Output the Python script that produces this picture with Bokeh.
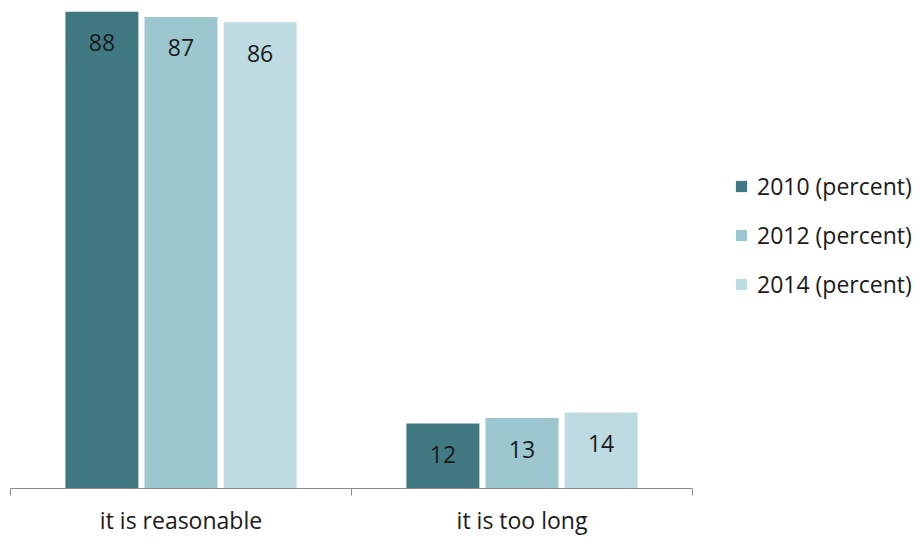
from bokeh.plotting import figure
from bokeh.models import ColumnDataSource, Range1d, FixedTicker, Legend, LegendItem, LinearAxis
from bokeh.embed import file_html
from bokeh.resources import INLINE
from bokeh.core.properties import value

categories = ["it is reasonable", "it is too long"]
series = ["2010 (percent)", "2012 (percent)", "2014 (percent)"]
values_2010 = [88, 12]
values_2012 = [87, 13]
values_2014 = [86, 14]
colors = ["#417983", "#9dc7cf", "#bddbe0"]

FONT = "Open Sans"
FS = "23px"

n = len(categories)
# frame spans the whole width to the right; the category axis is bounded to [0, n]
x_end = n * 911 / 682

p = figure(width=921, height=540, output_backend="svg", toolbar_location=None,
           x_range=Range1d(0, x_end), y_range=Range1d(0, 88),
           min_border_left=10, min_border_right=0, min_border_top=11, min_border_bottom=52,
           x_axis_location=None, y_axis_location=None)
p.outline_line_color = None
p.xgrid.visible = False
p.ygrid.visible = False

offsets = [-0.232, 0.0, 0.232]
bar_w = 0.214
legend_items = []
for name, vals, col, off in zip(series, [values_2010, values_2012, values_2014], colors, offsets):
    xs = [i + 0.5 + off for i in range(n)]
    src = ColumnDataSource(dict(x=xs, top=vals, label=[str(v) for v in vals]))
    r = p.vbar(x="x", top="top", bottom=0, width=bar_w, source=src, fill_color=col, line_color=None)
    p.text(x="x", y="top", text="label", source=src, text_align="center", text_baseline="middle",
           y_offset=31, text_font=value(FONT), text_font_size=FS, text_color="#1a1a1a")
    legend_items.append(LegendItem(label=name, renderers=[r]))

xaxis = LinearAxis(ticker=FixedTicker(ticks=[i + 0.5 for i in range(n)], minor_ticks=list(range(n + 1))),
                   major_label_overrides={i + 0.5: c for i, c in enumerate(categories)},
                   bounds=(0, n))
xaxis.axis_line_color = "#8c8c8c"
xaxis.axis_line_width = 1
xaxis.major_tick_out = 0
xaxis.major_tick_in = 0
xaxis.minor_tick_out = 7
xaxis.minor_tick_in = 0
xaxis.minor_tick_line_color = "#8c8c8c"
xaxis.major_label_standoff = 8
xaxis.major_label_text_font = FONT
xaxis.major_label_text_font_size = FS
xaxis.major_label_text_color = "#1a1a1a"
p.add_layout(xaxis, "below")

legend = Legend(items=legend_items, location=(724, 188), orientation="vertical",
                glyph_width=14, glyph_height=14, label_text_font=FONT, label_text_font_size=FS,
                label_text_color="#1a1a1a", label_standoff=9, spacing=17, padding=0, margin=0,
                border_line_color=None, background_fill_alpha=0)
p.add_layout(legend, "center")

open("out.html", "w").write(file_html(p, INLINE))
